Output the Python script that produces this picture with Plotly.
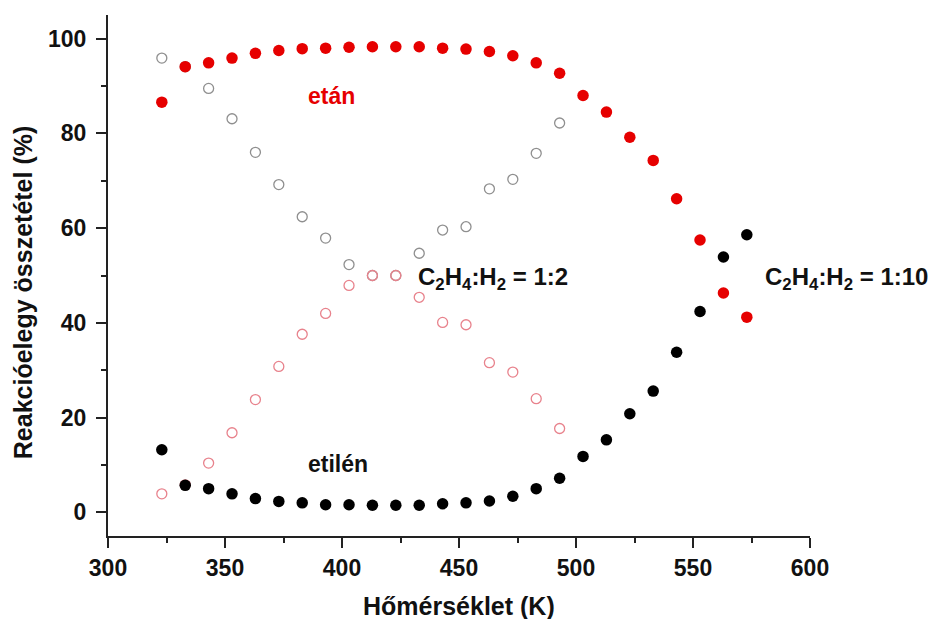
import plotly.graph_objects as go

# Temperatures (K)
T_110 = [323, 333, 343, 353, 363, 373, 383, 393, 403, 413, 423, 433, 443,
         453, 463, 473, 483, 493, 503, 513, 523, 533, 543, 553, 563, 573]
T_12 = [323, 333, 343, 353, 363, 373, 383, 393, 403, 413, 423, 433, 443,
        453, 463, 473, 483, 493]

# C2H4:H2 = 1:10 (filled)
etan_110 = [86.6, 94.1, 94.9, 95.9, 96.9, 97.5, 97.9, 98.0, 98.2, 98.3, 98.3, 98.3, 98.0,
            97.8, 97.3, 96.4, 94.9, 92.7, 88.0, 84.5, 79.2, 74.3, 66.2, 57.5, 46.3, 41.2]
etilen_110 = [13.2, 5.7, 5.0, 3.9, 2.9, 2.3, 2.0, 1.6, 1.6, 1.5, 1.5, 1.5, 1.8,
              2.0, 2.4, 3.4, 5.0, 7.2, 11.8, 15.3, 20.8, 25.6, 33.8, 42.4, 53.9, 58.6]

# C2H4:H2 = 1:2 (open)
etan_12 = [95.9, 94.1, 89.5, 83.1, 76.0, 69.2, 62.4, 57.9, 52.3, 50.0, 50.0, 54.7, 59.6,
           60.3, 68.3, 70.3, 75.8, 82.2]
etilen_12 = [3.9, 5.8, 10.4, 16.8, 23.8, 30.8, 37.6, 42.0, 47.9, 50.0, 50.0, 45.4, 40.1,
             39.6, 31.6, 29.6, 24.0, 17.7]

FONT = "Liberation Sans, Arial, sans-serif"
RED = "#e60000"
INK = "#111111"

fig = go.Figure()
fig.add_trace(go.Scatter(x=T_12, y=etan_12, mode="markers",
                         marker=dict(symbol="circle-open", size=10, color="#8f8f8f",
                                     line=dict(width=1.3, color="#8f8f8f"))))
fig.add_trace(go.Scatter(x=T_12, y=etilen_12, mode="markers",
                         marker=dict(symbol="circle-open", size=10, color="#e8828c",
                                     line=dict(width=1.3, color="#e8828c"))))
fig.add_trace(go.Scatter(x=T_110, y=etan_110, mode="markers",
                         marker=dict(symbol="circle", size=11.5, color=RED)))
fig.add_trace(go.Scatter(x=T_110, y=etilen_110, mode="markers",
                         marker=dict(symbol="circle", size=11.5, color="#000000")))

axis_common = dict(showline=True, linewidth=2, linecolor="#222222", showgrid=False,
                   zeroline=False, ticks="outside", ticklen=10, tickwidth=2,
                   tickcolor="#222222", mirror=False,
                   tickfont=dict(family=FONT, size=23, color=INK, weight="bold"))

fig.update_xaxes(range=[300, 600], dtick=50, tick0=300,
                 minor=dict(ticks="outside", ticklen=5, tickwidth=2, tickcolor="#222222", dtick=25),
                 **axis_common)
fig.update_yaxes(range=[-5, 105], dtick=20, tick0=0, ticklabelstandoff=5,
                 minor=dict(ticks="outside", ticklen=5, tickwidth=2, tickcolor="#222222", dtick=10),
                 **axis_common)

ann_font = dict(family=FONT, size=24, color=INK, weight="bold")
annotations = [
    dict(text="etán", x=395.3, y=88.0, xref="x", yref="y", showarrow=False,
         font=dict(family=FONT, size=23, color=RED, weight="bold")),
    dict(text="etilén", x=398.3, y=10.1, xref="x", yref="y", showarrow=False,
         font=dict(family=FONT, size=23, color=INK, weight="bold")),
    dict(text="C<sub>2</sub>H<sub>4</sub>:H<sub>2</sub> = 1:2", x=431.5, y=49.3,
         xref="x", yref="y", xanchor="left", yanchor="middle", showarrow=False, font=ann_font),
    dict(text="C<sub>2</sub>H<sub>4</sub>:H<sub>2</sub> = 1:10", x=579.8, y=49.3,
         xref="x", yref="y", xanchor="left", yanchor="middle", showarrow=False, font=ann_font),
    dict(text="Hőmérséklet (K)", x=0.5, y=-0.134, xref="paper", yref="paper",
         xanchor="center", yanchor="middle", showarrow=False,
         font=dict(family=FONT, size=25, color=INK, weight="bold")),
    dict(text="Reakcióelegy összetétel (%)", x=-0.1218, y=0.467, xref="paper", yref="paper",
         xanchor="center", yanchor="middle", textangle=-90, showarrow=False,
         font=dict(family=FONT, size=25, color=INK, weight="bold")),
]

fig.update_layout(width=944, height=619, showlegend=False,
                  plot_bgcolor="white", paper_bgcolor="white",
                  margin=dict(l=108, r=134, t=15, b=83),
                  annotations=annotations)

fig.write_html("out.html")
